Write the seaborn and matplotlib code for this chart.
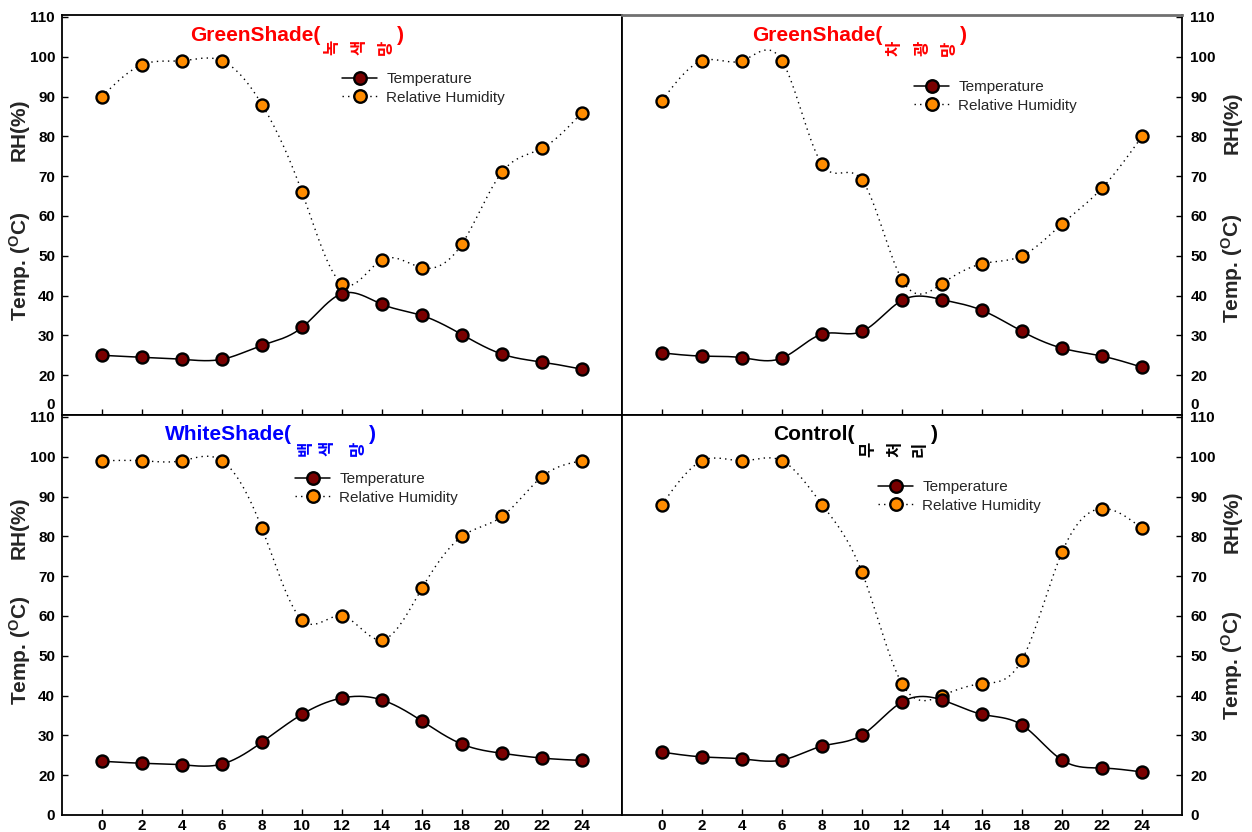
import numpy as np
import matplotlib
matplotlib.use("Agg")
import matplotlib.pyplot as plt
from matplotlib.lines import Line2D
import seaborn as sns

# Hourly readings (hour of day)
hours = [0, 2, 4, 6, 8, 10, 12, 14, 16, 18, 20, 22, 24]

green1_temp = [25.0, 24.5, 24.0, 24.0, 27.5, 32.0, 40.5, 37.8, 35.0, 30.2, 25.3, 23.3, 21.5]
green1_rh = [90, 98, 99, 99, 88, 66, 43, 49, 47, 53, 71, 77, 86]

green2_temp = [25.6, 24.8, 24.4, 24.3, 30.3, 31.0, 38.8, 39.0, 36.3, 31.0, 26.8, 24.8, 22.0]
green2_rh = [89, 99, 99, 99, 73, 69, 44, 43, 48, 50, 58, 67, 80]

white_temp = [23.5, 23.0, 22.6, 22.8, 28.3, 35.3, 39.4, 38.9, 33.6, 27.8, 25.5, 24.3, 23.7]
white_rh = [99, 99, 99, 99, 82, 59, 60, 54, 67, 80, 85, 95, 99]

control_temp = [25.8, 24.6, 24.1, 23.8, 27.3, 30.1, 38.4, 38.9, 35.3, 32.6, 23.8, 21.8, 20.8]
control_rh = [88, 99, 99, 99, 88, 71, 43, 40, 43, 49, 76, 87, 82]

panel_titles = ["GreenShade(", "GreenShade(", "WhiteShade(", "Control("]
panel_subtitles = ["녹색망", "차광망", "백색망", "무처리"]
title_colors = ["#ff0000", "#ff0000", "#0000ff", "#000000"]

y_ticks = [20, 30, 40, 50, 60, 70, 80, 90, 100, 110]
x_ticks = [0, 2, 4, 6, 8, 10, 12, 14, 16, 18, 20, 22, 24]

TEMP_COLOR = "#7a0000"
RH_COLOR = "#ff8c00"

sns.set_theme(style="white")
plt.rcParams["font.family"] = ["Liberation Sans", "DejaVu Sans"]
plt.rcParams["mathtext.fontset"] = "custom"
plt.rcParams["mathtext.rm"] = "Liberation Sans:bold"
plt.rcParams["mathtext.it"] = "Liberation Sans:bold"
plt.rcParams["mathtext.bf"] = "Liberation Sans:bold"

W, H = 1252, 832
fig = plt.figure(figsize=(W / 100, H / 100), dpi=100)


def px_axes(x0, y0, x1, y1):
    return fig.add_axes([x0 / W, 1 - y1 / H, (x1 - x0) / W, (y1 - y0) / H])


def ftext(x, y, s, **kw):
    return fig.text(x / W, 1 - y / H, s, **kw)


def natural_spline(x, y, num=400):
    x = np.asarray(x, float)
    y = np.asarray(y, float)
    n = len(x)
    h = np.diff(x)
    A = np.zeros((n, n))
    b = np.zeros(n)
    A[0, 0] = A[-1, -1] = 1
    for i in range(1, n - 1):
        A[i, i - 1] = h[i - 1]
        A[i, i] = 2 * (h[i - 1] + h[i])
        A[i, i + 1] = h[i]
        b[i] = 6 * ((y[i + 1] - y[i]) / h[i] - (y[i] - y[i - 1]) / h[i - 1])
    M = np.linalg.solve(A, b)
    xs = np.linspace(x[0], x[-1], num)
    idx = np.clip(np.searchsorted(x, xs) - 1, 0, n - 2)
    x0, x1 = x[idx], x[idx + 1]
    hh = x1 - x0
    t0, t1 = xs - x0, x1 - xs
    ys = (M[idx] * t1 ** 3 / (6 * hh) + M[idx + 1] * t0 ** 3 / (6 * hh)
          + (y[idx] / hh - M[idx] * hh / 6) * t1
          + (y[idx + 1] / hh - M[idx + 1] * hh / 6) * t0)
    return xs, ys


axes_px = [(62, 15, 622, 415), (622, 15, 1182, 415),
           (62, 415, 622, 815), (622, 415, 1182, 815)]
series = [(green1_temp, green1_rh), (green2_temp, green2_rh),
          (white_temp, white_rh), (control_temp, control_rh)]

# title layout: text start/baseline, sub-character centres, closing paren
title_layout = [
    dict(tx=190, ty=41, chars=[(332, 47), (359, 47), (386, 47)], par=(397, 41)),
    dict(tx=752, ty=41, chars=[(895, 48), (922, 48), (949, 48)], par=(960, 41)),
    dict(tx=165, ty=440, chars=[(306, 448), (327, 448), (358, 448)], par=(369, 440)),
    dict(tx=773, ty=440, chars=[(868, 449), (895, 449), (920, 449)], par=(931, 440)),
]
legend_anchor = [(342, 88.5), (914, 96.5), (295, 488.5), (878, 496.5)]

for k, (box, (temp, rh)) in enumerate(zip(axes_px, series)):
    ax = px_axes(*box)
    right = k % 2 == 1
    bottom = k >= 2

    xs, ys = natural_spline(hours, rh)
    sns.lineplot(x=xs, y=ys, ax=ax, color="black", linewidth=1.0,
                 linestyle=(0, (1, 3)), zorder=2)
    xs, ys = natural_spline(hours, temp)
    sns.lineplot(x=xs, y=ys, ax=ax, color="black", linewidth=1.1, zorder=2)
    sns.scatterplot(x=hours, y=rh, ax=ax, s=75, color=RH_COLOR,
                    edgecolor="black", linewidth=1.7, zorder=3)
    sns.scatterplot(x=hours, y=temp, ax=ax, s=75, color=TEMP_COLOR,
                    edgecolor="black", linewidth=1.7, zorder=4)

    ax.set_xlim(-2, 26)
    ax.set_ylim(10, 110.5)
    zero_pos = 10 if bottom else 13
    ax.set_yticks([zero_pos] + y_ticks)
    ax.set_yticklabels(["0"] + [str(v) for v in y_ticks])
    ax.set_xticks(x_ticks)
    if bottom:
        ax.set_xticklabels([str(v) for v in x_ticks])
    else:
        ax.set_xticklabels([])
    ax.set_xlabel("")
    ax.set_ylabel("")

    ax.tick_params(axis="both", direction="in", length=4, width=1,
                   colors="black", labelsize=11)
    ax.tick_params(axis="x", pad=3, bottom=True, top=False)
    if right:
        ax.yaxis.tick_right()
        ax.tick_params(axis="y", left=False, right=True, pad=6)
    else:
        ax.tick_params(axis="y", left=True, right=False, pad=5)
    ax.yaxis.get_major_ticks()[0].tick1line.set_visible(False)
    ax.yaxis.get_major_ticks()[0].tick2line.set_visible(False)
    for lab in ax.get_xticklabels() + ax.get_yticklabels():
        lab.set_fontweight("bold")

    for sp in ax.spines.values():
        sp.set_color("black")
        sp.set_linewidth(1.3)
        sp.set_visible(True)
    if k == 1:
        ax.spines["top"].set_color("#707070")
        ax.spines["top"].set_linewidth(2)
    ax.grid(False)

    # legend
    handles = [
        Line2D([], [], color="black", lw=1.1, ls="-", marker="o", ms=9,
               mfc=TEMP_COLOR, mec="black", mew=1.7),
        Line2D([], [], color="black", lw=1.0, ls=(0, (1, 3)), marker="o", ms=9,
               mfc=RH_COLOR, mec="black", mew=1.7),
    ]
    lx, ly = legend_anchor[k]
    ax.legend(handles, ["Temperature", "Relative Humidity"],
              loc="center left", bbox_to_anchor=(lx / W, 1 - ly / H),
              bbox_transform=fig.transFigure, frameon=False,
              prop={"family": "Liberation Sans", "size": 11},
              handlelength=2.3, handletextpad=0.6, labelspacing=0.3,
              borderpad=0, borderaxespad=0)

    # panel title
    tl = title_layout[k]
    ftext(tl["tx"], tl["ty"], panel_titles[k], color=title_colors[k],
          fontsize=15, fontweight="bold", ha="left", va="baseline")
    for ch, (cx, cy) in zip(panel_subtitles[k], tl["chars"]):
        ftext(cx, cy, ch, color=title_colors[k], fontsize=12,
              fontweight="bold", family=["Noto Sans CJK KR", "DejaVu Sans"],
              rotation=90, ha="center", va="center")
    ftext(tl["par"][0], tl["par"][1], ")", color=title_colors[k],
          fontsize=15, fontweight="bold", ha="left", va="baseline")

# axis labels
label_pos = [
    (19, 130, 20, 266),
    (1232, 123, 1232, 268),
    (19, 528, 20, 650),
    (1232, 522, 1232, 665),
]
for rx, ry, tx, ty in label_pos:
    ftext(rx, ry, "RH(%)", rotation=90, fontsize=15, fontweight="bold",
          ha="center", va="center")
    ftext(tx, ty, r"Temp. ($^{\mathbf{O}}$C)", rotation=90, fontsize=15,
          fontweight="bold", ha="center", va="center")

fig.savefig("out.png", dpi=100, facecolor="white")
